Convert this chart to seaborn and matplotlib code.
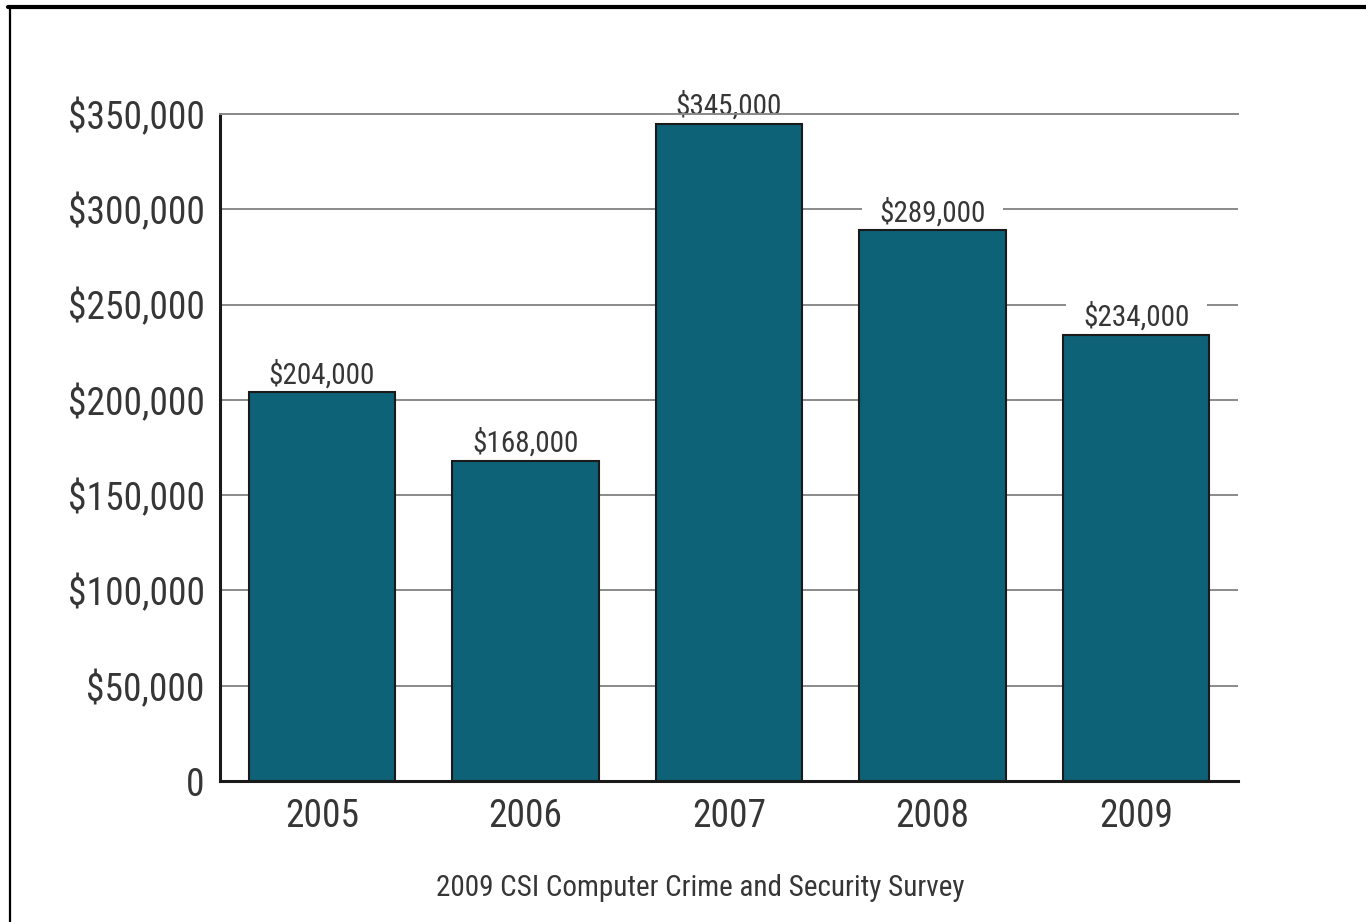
import matplotlib
matplotlib.use("Agg")
import matplotlib.pyplot as plt
from matplotlib.lines import Line2D
import seaborn as sns

# Average loss per respondent, CSI survey
years = ["2005", "2006", "2007", "2008", "2009"]
losses = [204000, 168000, 345000, 289000, 234000]
value_labels = ["$204,000", "$168,000", "$345,000", "$289,000", "$234,000"]
y_ticks = [0, 50000, 100000, 150000, 200000, 250000, 300000, 350000]
y_tick_labels = ["0", "$50,000", "$100,000", "$150,000", "$200,000",
                 "$250,000", "$300,000", "$350,000"]
caption = "2009 CSI Computer Crime and Security Survey"

sns.set_theme(style="white")
plt.rcParams["font.family"] = ["Liberation Sans Narrow", "Roboto Condensed",
                               "Noto Sans Condensed", "DejaVu Sans Condensed",
                               "Open Sans Condensed", "Noto Sans", "DejaVu Sans"]
plt.rcParams["font.stretch"] = "condensed"

TEXT = "#363636"
BAR = "#0e6278"
GRID = "#8a8a8a"

W, H = 1366, 922
fig = plt.figure(figsize=(W / 100, H / 100), dpi=100)
fig.patch.set_facecolor("white")
ax = fig.add_axes([220 / W, 1 - 781 / H, (1238 - 220) / W, (781 - 114) / H])

sns.barplot(x=years, y=losses, color=BAR, saturation=1, width=0.72,
            edgecolor="#1a1a1a", linewidth=1.5, ax=ax)

ax.set_xlim(-0.5, 4.5)
ax.set_ylim(0, 350000)
ax.set_yticks(y_ticks)
ax.set_yticklabels(y_tick_labels)
ax.set_xlabel("")
ax.set_ylabel("")

ax.set_axisbelow(True)
ax.yaxis.grid(True, color=GRID, linewidth=1.4)
ax.xaxis.grid(False)

for side in ("left", "bottom"):
    ax.spines[side].set_color("#1a1a1a")
    ax.spines[side].set_linewidth(2.2)
ax.spines["right"].set_visible(False)
ax.spines["top"].set_color(GRID)
ax.spines["top"].set_linewidth(1.4)

ax.tick_params(axis="y", length=0, pad=11, labelsize=27, labelcolor=TEXT)
ax.tick_params(axis="x", length=0, pad=12, labelsize=27, labelcolor=TEXT)

# Value labels sit in a white box that interrupts the gridlines behind them
for i, (v, lab) in enumerate(zip(losses, value_labels)):
    ax.annotate(lab, (i, v), xytext=(0, 6.5), textcoords="offset points",
                ha="center", va="baseline", fontsize=21, color=TEXT,
                zorder=0.8, annotation_clip=False,
                bbox=dict(boxstyle="square,pad=0.6", facecolor="white",
                          edgecolor="none"))

fig.text(700 / W, 1 - 888 / H, caption, ha="center", va="center",
         fontsize=21, color=TEXT)

# Frame lines along the top and left edges
fig.add_artist(Line2D([8 / W, 1], [1 - 7 / H, 1 - 7 / H], color="black",
                      linewidth=3, transform=fig.transFigure))
fig.add_artist(Line2D([9.5 / W, 9.5 / W], [0, 1 - 7 / H], color="black",
                      linewidth=1.6, transform=fig.transFigure))

fig.savefig("out.png", dpi=100)
